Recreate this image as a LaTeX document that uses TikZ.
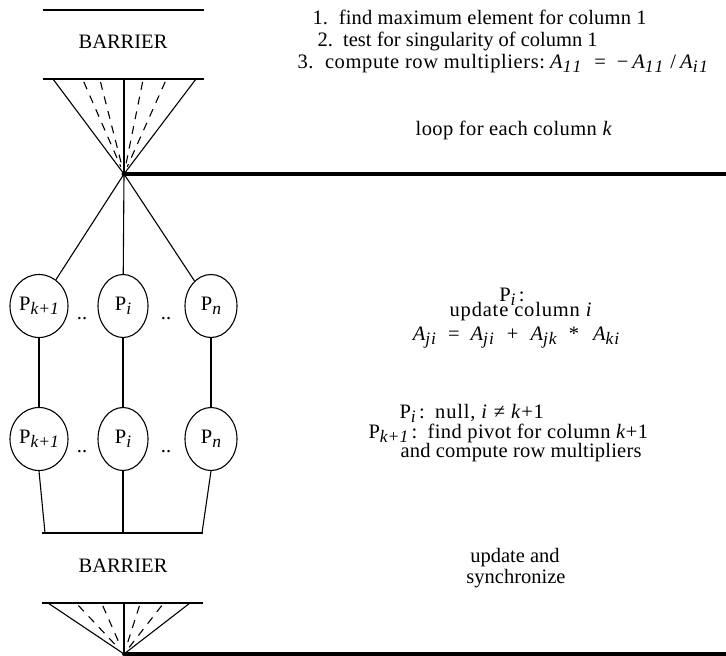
\documentclass[tikz,border=0pt]{standalone}
\usepackage{fontspec}
\setmainfont{Liberation Serif}
\usetikzlibrary{shapes.geometric}
% lowered italic subscript
\newcommand{\lsub}[1]{\raisebox{-0.45ex}{\fontsize{17.5}{17.5}\selectfont\itshape #1}}
\newcommand{\vv}[1]{\textit{#1}}
\newcommand{\spaced}[2]{{\addfontfeatures{LetterSpace=#1}#2}}

\begin{document}
\begin{tikzpicture}[x=1pt,y=-1pt,line width=1.1pt,
  every node/.style={font=\fontsize{20.5}{22}\selectfont,inner sep=0pt},
  proc/.style={draw,ellipse,minimum height=63pt},
  txt/.style={anchor=base west},
  ctxt/.style={anchor=base},
  heavy/.style={line width=3.5pt},
  fandash/.style={dash pattern=on 8pt off 7pt,shorten >=8pt,shorten <=2pt}]
\useasboundingbox (0,0) rectangle (726,656);

% ---------- first barrier ----------
\coordinate (t1l) at (43,10);  \coordinate (t1r) at (204,10);
\coordinate (t2l) at (43,79);  \coordinate (t2r) at (204,79);
\draw (t1l) -- (t1r);
\draw (t2l) -- (t2r);
\node[ctxt] (bar1) at (123,48) {BARRIER};

\coordinate (apex) at (124,174);
\coordinate (fl) at (53,79);   \coordinate (fr) at (196,79);
\coordinate (fm) at (124,79);
\draw (fl) -- (apex) -- (fr);
\draw (fm) -- (apex);
\foreach \x in {83,100,143,166}
  \draw[fandash] (\x,80) -- (apex);
\fill (apex) circle (2.5pt);
\coordinate (loopend) at (726,174);
\draw[heavy] (apex) -- (loopend);

% ---------- processes ----------
\node[proc,minimum width=58pt] (p1) at (39,306) {P\lsub{k+1}};
\node[proc,minimum width=50pt] (p2) at (123,306) {P\lsub{i}};
\node[proc,minimum width=52pt] (p3) at (211,306) {P\lsub{n}};
\node[anchor=base] (d1) at (82,319) {..};
\node[anchor=base] (d2) at (166,319) {..};

\node[proc,minimum width=58pt] (q1) at (39,439) {P\lsub{k+1}};
\node[proc,minimum width=50pt] (q2) at (123,439) {P\lsub{i}};
\node[proc,minimum width=52pt] (q3) at (211,439) {P\lsub{n}};
\node[anchor=base] (e1) at (82,452) {..};
\node[anchor=base] (e2) at (166,452) {..};

\draw (apex) -- (p1);
\draw (apex) -- (p2);
\draw (apex) -- (p3);
\draw (p1.south) -- (q1.north);
\draw (p2.south) -- (q2.north);
\draw (p3.south) -- (q3.north);

% ---------- gathering bar ----------
\coordinate (bl) at (45,533);  \coordinate (bm) at (123,533);
\coordinate (br) at (202,533);
\draw (42,533) -- (203,533);
\draw (q1.south) -- (bl);
\draw (q2.south) -- (bm);
\draw (q3.south) -- (br);

% ---------- second barrier ----------
\node[ctxt] (bar2) at (123,572) {BARRIER};
\draw (42,603) -- (203,603);
\coordinate (apex2) at (124,654);
\draw (48,603) -- (apex2) -- (190,603);
\draw (124,603) -- (apex2);
\foreach \x in {77,102,140,163}
  \draw[fandash] (\x,604) -- (apex2);
\fill (apex2) circle (2pt);
\coordinate (syncend) at (726,654);
\draw[heavy] (apex2) -- (syncend);

% ---------- annotations ----------
\node[txt] (s1) at (312,24) {\spaced{1}{1.\ \ find maximum element for column 1}};
\node[txt] (s2) at (317,46) {2.\ \ test for singularity of column 1};
\node[txt] (s3) at (297,68) {\spaced{3}{3.\ \ compute row multipliers:}\hspace{5pt}\vv{A}\lsub{1\kern1pt 1}\hspace{13pt}=\hspace{11pt}−\hspace{4pt}\vv{A}\lsub{1\kern1pt 1}\hspace{7pt}/\hspace{4pt}\vv{A}\lsub{i\kern1.5pt 1}};
\node[ctxt] (loop) at (514,135) {\spaced{2}{loop for each column \vv{k}}};

\node[ctxt] (pi) at (512,301) {P\lsub{i}\,:};
\node[ctxt] (upd) at (521,316) {\spaced{4}{update column \vv{i}}};
\node[ctxt] (eq) at (516,340) {\vv{A}\lsub{j\kern1pt i}\hspace{12pt}=\hspace{11pt}\vv{A}\lsub{j\kern1pt i}\hspace{13pt}+\hspace{12pt}\vv{A}\lsub{j\kern1pt k}\hspace{12pt}*\hspace{14pt}\vv{A}\lsub{k\kern1pt i}};

\node[txt] (nul) at (399,418) {P\lsub{i}\,:\ \ \spaced{4}{null, \vv{i} ≠ \vv{k}+1}};
\node[txt] (piv) at (368,438) {P\lsub{k+1}\,:\ \ \spaced{2}{find pivot for column \vv{k}+1}};
\node[txt] (mul) at (400,457) {\spaced{1}{and compute row multipliers}};

\node[ctxt] (ua) at (515,562) {update and};
\node[ctxt] (sy) at (516,583) {synchronize};
\end{tikzpicture}
\end{document}
